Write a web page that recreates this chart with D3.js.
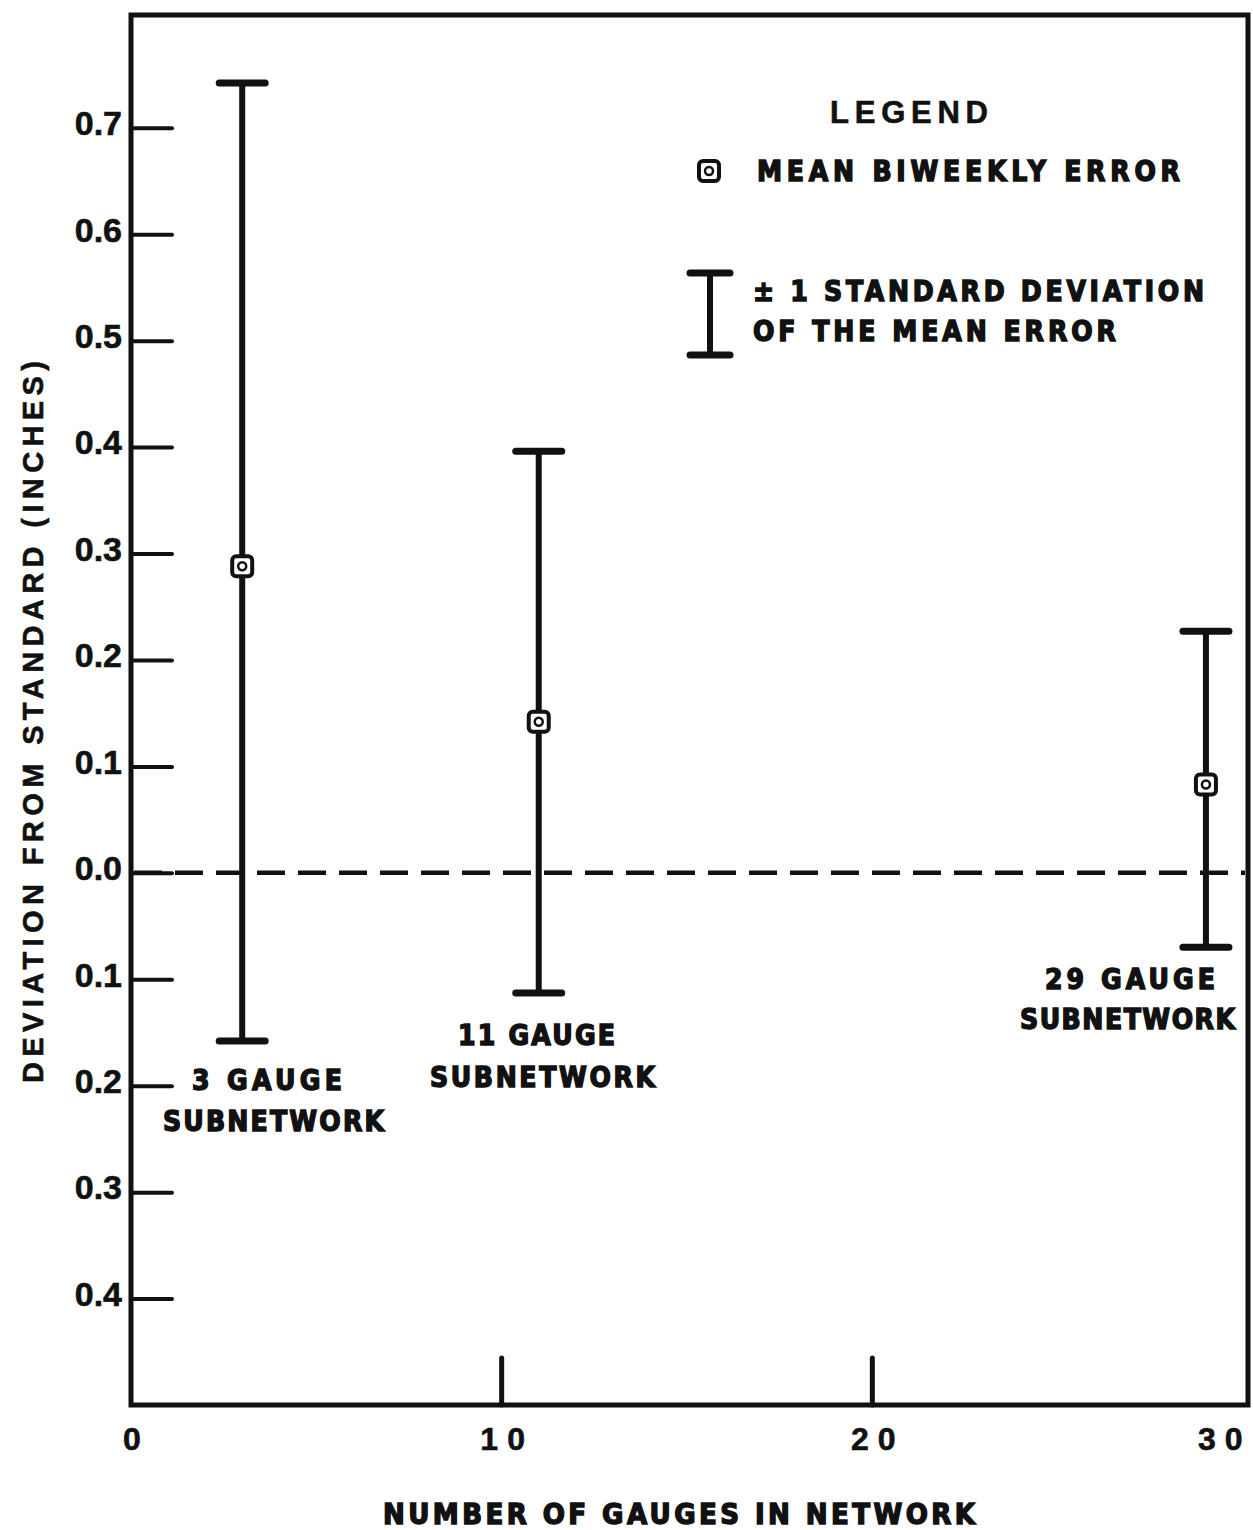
<!DOCTYPE html>
<html>
<head>
<meta charset="utf-8">
<script src="https://cdn.jsdelivr.net/npm/d3@7"></script>
<style>
  body { margin: 0; background: #fff; }
  svg text { fill: #111; }
</style>
</head>
<body>
<div id="container"></div>
<script>
// subnetwork sizes and their error stats (inches)
const gauges = [3, 11, 29];
const meanError = [0.288, 0.142, 0.083];
const upperSD = [0.742, 0.396, 0.227];
const lowerSD = [-0.158, -0.113, -0.070];
const groupLabels = [["3  GAUGE", "SUBNETWORK"], ["11  GAUGE", "SUBNETWORK"], ["29  GAUGE", "SUBNETWORK"]];

const yTickValues = [0.7, 0.6, 0.5, 0.4, 0.3, 0.2, 0.1, 0.0, -0.1, -0.2, -0.3, -0.4];
const xTickValues = [0, 10, 20, 30];

const W = 1253, H = 1530;
const frame = {left: 131, right: 1248, top: 15, bottom: 1405};

const svg = d3.select("#container").append("svg")
  .attr("width", W)
  .attr("height", H);

const x = d3.scaleLinear().domain([0, 30]).range([frame.left, 1243]);
const y = d3.scaleLinear().domain([-0.5, 0.806]).range([frame.bottom, frame.top]);

const stencil = "'DejaVu Sans Condensed', 'Liberation Sans Narrow', 'DejaVu Sans', sans-serif";
const plain = "'Liberation Sans', Arial, sans-serif";

// frame
svg.append("rect")
  .attr("x", frame.left).attr("y", frame.top)
  .attr("width", frame.right - frame.left).attr("height", frame.bottom - frame.top)
  .attr("fill", "none").attr("stroke", "#111").attr("stroke-width", 5);

// y axis, ticks pointing inward
svg.append("g")
  .attr("transform", `translate(${frame.left},0)`)
  .call(d3.axisLeft(y).tickValues(yTickValues).tickSize(-41).tickPadding(9)
    .tickFormat(d => Math.abs(d).toFixed(1)))
  .call(g => g.select(".domain").remove())
  .call(g => g.selectAll("line").attr("stroke", "#111").attr("stroke-width", 4).attr("stroke-linecap", "round"))
  .call(g => g.selectAll("text")
    .attr("dy", "0.2em")
    .style("font-family", plain).style("font-weight", "bold").style("font-size", "34px")
    .style("stroke", "#111").style("stroke-width", 0.6));

// x axis, ticks pointing up into the plot
svg.append("g")
  .attr("transform", `translate(0,${frame.bottom})`)
  .call(d3.axisBottom(x).tickValues(xTickValues).tickSize(0).tickPadding(22).tickFormat(d => d))
  .call(g => g.select(".domain").remove())
  .call(g => g.selectAll("text")
    .style("font-family", plain).style("font-weight", "bold").style("font-size", "32px")
    .style("letter-spacing", "9px").attr("dx", "5px")
    .style("stroke", "#111").style("stroke-width", 0.6))
  .call(g => g.selectAll(".tick").filter(d => d === 30).select("text")
    .attr("text-anchor", "end").attr("dx", "8px"));

svg.append("g").selectAll("line")
  .data(xTickValues.filter(d => d > 0 && d < 30))
  .join("line")
  .attr("x1", d => x(d)).attr("x2", d => x(d))
  .attr("y1", frame.bottom).attr("y2", frame.bottom - 47)
  .attr("stroke", "#111").attr("stroke-width", 5).attr("stroke-linecap", "round");

// zero reference line
svg.append("line")
  .attr("x1", frame.left + 3).attr("x2", frame.right - 3)
  .attr("y1", y(0)).attr("y2", y(0))
  .attr("stroke", "#111").attr("stroke-width", 4.5)
  .attr("stroke-dasharray", "28,13");

// error bars
const bars = svg.append("g").selectAll("g")
  .data(gauges.map((g, i) => ({g, mean: meanError[i], hi: upperSD[i], lo: lowerSD[i], label: groupLabels[i]})))
  .join("g");

bars.append("line")
  .attr("x1", d => x(d.g)).attr("x2", d => x(d.g))
  .attr("y1", d => y(d.hi)).attr("y2", d => y(d.lo))
  .attr("stroke", "#111").attr("stroke-width", 6);

bars.selectAll(".cap")
  .data(d => [d, d].map((v, k) => ({g: v.g, val: k ? v.lo : v.hi})))
  .join("line")
  .attr("class", "cap")
  .attr("x1", d => x(d.g) - 23).attr("x2", d => x(d.g) + 23)
  .attr("y1", d => y(d.val)).attr("y2", d => y(d.val))
  .attr("stroke", "#111").attr("stroke-width", 7).attr("stroke-linecap", "round");

// mean marker
function marker(sel, cx, cy) {
  sel.append("rect")
    .attr("x", cx - 10).attr("y", cy - 10).attr("width", 20).attr("height", 20).attr("rx", 4)
    .attr("fill", "#fff").attr("stroke", "#111").attr("stroke-width", 4);
  sel.append("circle")
    .attr("cx", cx).attr("cy", cy).attr("r", 4).attr("fill", "none")
    .attr("stroke", "#111").attr("stroke-width", 2.5);
}
bars.each(function(d) { marker(d3.select(this), x(d.g), y(d.mean)); });

// heavy, letter-spaced lettering like the original stencil
function stencilText(sel, t, lx, ly, lw, size) {
  return sel.append("text")
    .attr("x", lx).attr("y", ly)
    .attr("textLength", lw).attr("lengthAdjust", "spacing")
    .style("font-family", stencil).style("font-weight", "bold").style("font-size", (size || 28) + "px")
    .style("stroke", "#111").style("stroke-width", 1.4)
    .text(t);
}

// group labels
const labelPos = [
  {x1: 192, w1: 150, x2: 163, w2: 221, y1: 1090, y2: 1131},
  {x1: 458, w1: 157, x2: 430, w2: 225, y1: 1045, y2: 1087},
  {x1: 1045, w1: 170, x2: 1020, w2: 215, y1: 989, y2: 1029}
];
bars.each(function(d, i) {
  const p = labelPos[i];
  const g = d3.select(this);
  stencilText(g, d.label[0], p.x1, p.y1, p.w1);
  stencilText(g, d.label[1], p.x2, p.y2, p.w2);
});

// legend
const legend = svg.append("g");
legend.append("text")
  .attr("x", 830).attr("y", 123)
  .attr("textLength", 158).attr("lengthAdjust", "spacing")
  .style("font-family", plain).style("font-weight", "bold").style("font-size", "31px")
  .style("stroke", "#111").style("stroke-width", 0.6)
  .text("LEGEND");
marker(legend, 709, 171);
stencilText(legend, "MEAN  BIWEEKLY  ERROR", 757, 181, 423);
legend.append("line").attr("x1", 710).attr("x2", 710).attr("y1", 273).attr("y2", 355)
  .attr("stroke", "#111").attr("stroke-width", 6);
legend.selectAll(".lcap").data([273, 355]).join("line")
  .attr("x1", 690).attr("x2", 730).attr("y1", d => d).attr("y2", d => d)
  .attr("stroke", "#111").attr("stroke-width", 7).attr("stroke-linecap", "round");
stencilText(legend, "± 1  STANDARD  DEVIATION", 753, 301, 451);
stencilText(legend, "OF  THE  MEAN  ERROR", 753, 341, 363);

// axis titles
svg.append("text")
  .attr("transform", "translate(43,722) rotate(-90)")
  .attr("text-anchor", "middle")
  .attr("textLength", 722).attr("lengthAdjust", "spacing")
  .style("font-family", plain).style("font-weight", "bold").style("font-size", "29px")
  .style("stroke", "#111").style("stroke-width", 0.6)
  .text("DEVIATION  FROM  STANDARD  (INCHES)");

stencilText(svg, "NUMBER  OF  GAUGES  IN  NETWORK", 383, 1524, 592, 29);
</script>
</body>
</html>
